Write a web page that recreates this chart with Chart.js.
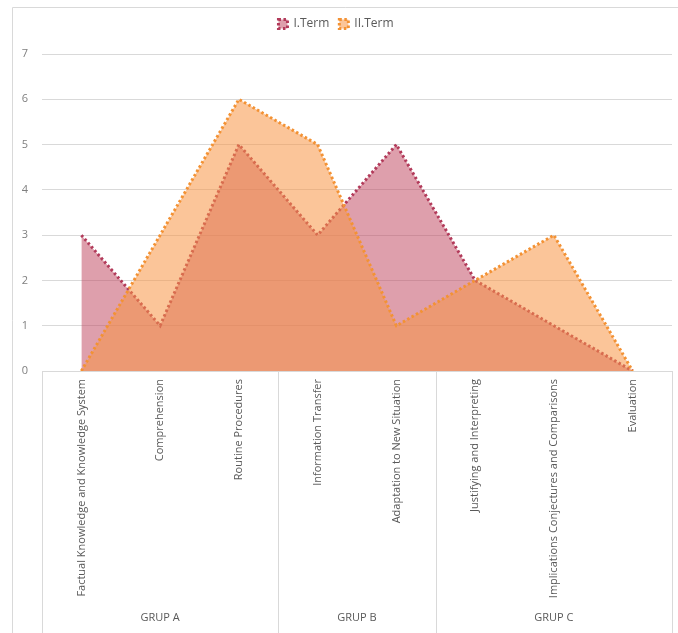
<!DOCTYPE html>
<html>
<head>
<meta charset="utf-8">
<script src="https://cdn.jsdelivr.net/npm/chart.js@4.4.1/dist/chart.umd.min.js"></script>
<style>
  html, body { margin: 0; padding: 0; background: #fff; }
  #wrap { position: relative; width: 678px; height: 633px; }
</style>
</head>
<body>
<div id="wrap"><canvas id="chart"></canvas></div>
<script>
const categories = [
  "Factual Knowledge and Knowledge System",
  "Comprehension",
  "Routine Procedures",
  "Information Transfer",
  "Adaptation to New Situation",
  "Justifying and Interpreting",
  "Implications Conjectures and Comparisons",
  "Evaluation",
]
const termOne = [3, 1, 5, 3, 5, 2, 1, 0]
const termTwo = [0, 3, 6, 5, 1, 2, 3, 0]
const groups     = ["GRUP A", "GRUP B", "GRUP C"]
const groupSizes = [3, 2, 3]

const GRID  = "#d9d9d9"
const TEXT  = "#595959"
const FONT  = "'Open Sans', 'Liberation Sans', sans-serif"

// give the legend a bit more room so the plot starts lower
const legendSpace = {
  id: "legendSpace",
  beforeInit(chart) {
    const fit = chart.legend.fit
    chart.legend.fit = function () {
      fit.bind(chart.legend)()
      this.height += 14
    }
  },
}

// outer frame of the chart box
const frame = {
  id: "frame",
  beforeDraw(chart) {
    const ctx = chart.ctx
    ctx.save()
    ctx.strokeStyle = GRID
    ctx.lineWidth = 1
    ctx.beginPath()
    ctx.moveTo(12.5, chart.height)
    ctx.lineTo(12.5, 7.5)
    ctx.lineTo(chart.width, 7.5)
    ctx.stroke()
    ctx.restore()
  },
}

// multi-level category axis: dividers and group names
const groupAxis = {
  id: "groupAxis",
  afterDraw(chart) {
    const x    = chart.scales.x
    const ctx  = chart.ctx
    const top  = chart.chartArea.bottom
    const half = (x.getPixelForValue(1) - x.getPixelForValue(0)) / 2
    ctx.save()
    ctx.strokeStyle = GRID
    ctx.lineWidth = 1
    ctx.fillStyle = TEXT
    ctx.font = "11px " + FONT
    ctx.textAlign = "center"
    ctx.textBaseline = "middle"

    let start = 0
    const edges = [x.getPixelForValue(0) - half]
    groups.forEach((name, i) => {
      const end   = start + groupSizes[i] - 1
      const left  = x.getPixelForValue(start) - half
      const right = x.getPixelForValue(end) + half
      edges.push(right)
      ctx.fillText(name, (left + right) / 2, 618)
      start = end + 1
    })
    edges.forEach(e => {
      const px = Math.round(e) + 0.5
      ctx.beginPath()
      ctx.moveTo(px, top)
      ctx.lineTo(px, chart.height)
      ctx.stroke()
    })
    ctx.restore()
  },
}

const ctx = document.getElementById("chart").getContext("2d")

new Chart(ctx, {
  type: "line",
  data: {
    labels: categories,
    datasets: [
      {
        label:           "I.Term",
        data:            termOne,
        borderColor:     "#b23a5a",
        backgroundColor: "rgba(192,70,95,0.52)",
        borderWidth:     3,
        borderDash:      [2.5, 2.5],
        fill:            "origin",
        pointRadius:     0,
        tension:         0,
        order:           1,
      },
      {
        label:           "II.Term",
        data:            termTwo,
        borderColor:     "#f39234",
        backgroundColor: "rgba(247,150,70,0.55)",
        borderWidth:     3,
        borderDash:      [2.5, 2.5],
        fill:            "origin",
        pointRadius:     0,
        tension:         0,
        order:           0,
      },
    ],
  },
  plugins: [legendSpace, frame, groupAxis],
  options: {
    responsive:          true,
    maintainAspectRatio: false,
    animation:           false,
    layout: { padding: { top: 8, right: 6, left: 0, bottom: 0 } },
    plugins: {
      legend: {
        position: "top",
        labels: {
          color:     TEXT,
          font:      { family: FONT, size: 12 },
          boxWidth:  9,
          boxHeight: 9,
          padding:   10,
          sort:      (a, b) => a.datasetIndex - b.datasetIndex,
        },
      },
      tooltip: { enabled: false },
    },
    scales: {
      x: {
        offset: true,
        grid:   { display: false, drawTicks: false },
        border: { display: true, color: GRID },
        ticks: {
          color:       TEXT,
          font:        { family: FONT, size: 11 },
          minRotation: 90,
          maxRotation: 90,
          autoSkip:    false,
          padding:     8,
        },
        afterFit: scale => { scale.height = 262 },
      },
      y: {
        min: 0,
        max: 7,
        grid:   { color: GRID, drawTicks: false },
        border: { display: false },
        ticks: {
          stepSize: 1,
          color:    "#7f7f7f",
          font:     { family: FONT, size: 11 },
          padding:  14,
        },
        afterFit: scale => { scale.width = 42 },
      },
    },
  },
})
</script>
</body>
</html>
